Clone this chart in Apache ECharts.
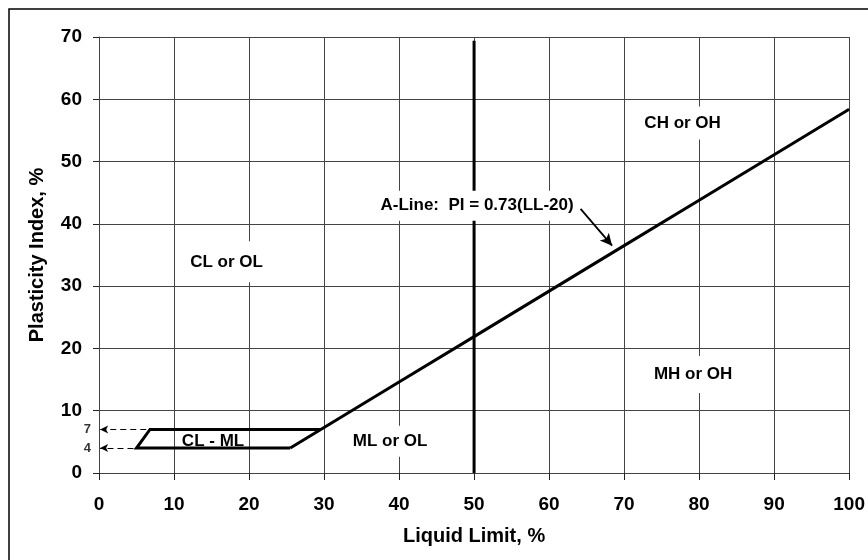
<!DOCTYPE html>
<html>
<head>
<meta charset="utf-8">
<script src="https://cdn.jsdelivr.net/npm/echarts@6/dist/echarts.min.js"></script>
<style>
html,body{margin:0;padding:0;background:#fff;}
#chart{width:868px;height:560px;}
</style>
</head>
<body>
<div id="chart"></div>
<script>
// ---- data ----
var xTicks = [0, 10, 20, 30, 40, 50, 60, 70, 80, 90, 100];
var yTicks = [0, 10, 20, 30, 40, 50, 60, 70];
var aLineLL = [25.5, 30, 40, 50, 60, 70, 80, 90, 100];
var aLinePI = [4, 7.3, 14.6, 21.9, 29.2, 36.5, 43.8, 51.1, 58.4];
var clmlLL = [25.5, 5, 6.8, 29.6];
var clmlPI = [4, 4, 7, 7];
var uLineLL = [50, 50];
var uLinePI = [0, 69.4];
var regionNames = ['CL or OL', 'CH or OH', 'MH or OH', 'ML or OL', 'CL - ML', 'A-Line:  PI = 0.73(LL-20)'];
var regionLL = [17, 77.8, 79.2, 38.8, 15.2, 50.4];
var regionPI = [33.9, 56.2, 15.8, 5.1, 5.1, 42.9];
var sideLabels = ['7', '4'];
var sidePI = [7, 4];
var sideArrowFromLL = [6.3, 4.6];
var arrowFrom = [64.2, 42.4];
var arrowTo = [68.4, 36.5];

// ---- chart ----
var FONT = "'Liberation Sans', Arial, sans-serif";
var chart = echarts.init(document.getElementById('chart'), null, {renderer: 'canvas'});

function pairs(a, b) { return a.map(function (v, i) { return [v, b[i]]; }); }

var regionPad = [[10, 5, 14, 5], [8, 5, 8, 5], [9, 5, 11, 5], [6, 4, 8, 4], [0, 0, 0, 0], [7, 5, 6, 5]];
var regionBg = ['#fff', '#fff', '#fff', '#fff', 'transparent', '#fff'];
var regionItems = regionNames.map(function (n, i) {
  return {
    value: [regionLL[i], regionPI[i]],
    name: n,
    label: {padding: regionPad[i], backgroundColor: regionBg[i]}
  };
});

var dashedArrows = sidePI.map(function (p, i) {
  return [{coord: [sideArrowFromLL[i], p]}, {coord: [0.15, p]}];
});

var option = {
  animation: false,
  backgroundColor: '#fff',
  textStyle: {fontFamily: FONT},
  graphic: [{
    type: 'rect',
    shape: {x: 9, y: 9, width: 900, height: 600},
    style: {fill: 'none', stroke: '#000', lineWidth: 1.5},
    silent: true,
    z: -1
  }],
  grid: {left: 99, right: 18, top: 37, bottom: 87, containLabel: false},
  xAxis: {
    type: 'value', min: xTicks[0], max: xTicks[xTicks.length - 1], interval: 10,
    name: 'Liquid Limit, %', nameLocation: 'middle', nameGap: 53,
    nameTextStyle: {fontSize: 20, fontWeight: 'bold', color: '#000', fontFamily: FONT},
    axisLine: {show: true, lineStyle: {color: '#444', width: 1}},
    axisTick: {show: true, length: 7, lineStyle: {color: '#222'}},
    axisLabel: {fontSize: 19, fontWeight: 'bold', color: '#000', margin: 22, fontFamily: FONT},
    splitLine: {show: true, lineStyle: {color: '#444', width: 1}}
  },
  yAxis: {
    type: 'value', min: yTicks[0], max: yTicks[yTicks.length - 1], interval: 10,
    name: 'Plasticity Index, %', nameLocation: 'middle', nameGap: 52,
    nameTextStyle: {fontSize: 20, fontWeight: 'bold', color: '#000', fontFamily: FONT},
    axisLine: {show: true, lineStyle: {color: '#444', width: 1}},
    axisTick: {show: true, length: 6, lineStyle: {color: '#222'}},
    axisLabel: {fontSize: 19, fontWeight: 'bold', color: '#000', margin: 17, fontFamily: FONT},
    splitLine: {show: true, lineStyle: {color: '#444', width: 1}}
  },
  series: [
    {
      type: 'line', data: pairs(uLineLL, uLinePI), symbol: 'none', z: 2,
      lineStyle: {color: '#000', width: 3}
    },
    {
      type: 'line', data: pairs(aLineLL, aLinePI), symbol: 'none', z: 6,
      lineStyle: {color: '#000', width: 3}
    },
    {
      type: 'line', data: pairs(clmlLL, clmlPI), symbol: 'none', z: 6,
      lineStyle: {color: '#000', width: 3, join: 'miter'}
    },
    {
      type: 'scatter', data: regionItems, symbolSize: 0, z: 5,
      itemStyle: {color: '#fff', opacity: 1},
      label: {
        show: true, position: 'inside', formatter: '{b}',
        color: '#000', fontWeight: 'bold', fontSize: 17, fontFamily: FONT,
        textBorderWidth: 0, opacity: 1
      },
      emphasis: {disabled: true},
      markLine: {
        silent: true, symbol: ['none', 'arrow'], symbolSize: [9, 12],
        label: {show: false},
        lineStyle: {color: '#000', width: 1.8, type: 'solid'},
        data: [[{coord: arrowFrom}, {coord: arrowTo}]]
      }
    },
    {
      type: 'scatter', data: pairs(sidePI.map(function () { return 0; }), sidePI),
      symbolSize: 0, clip: false, z: 5,
      itemStyle: {color: '#fff'},
      label: {
        show: true, position: 'left', distance: 8,
        formatter: function (p) { return sideLabels[p.dataIndex]; },
        color: '#000', fontWeight: 'bold', fontSize: 13, fontFamily: FONT,
        textBorderWidth: 0
      },
      emphasis: {disabled: true},
      markLine: {
        silent: true, symbol: ['none', 'arrow'], symbolSize: [6, 8],
        label: {show: false},
        lineStyle: {color: '#000', width: 1, type: [6, 4]},
        data: dashedArrows
      }
    }
  ]
};
chart.setOption(option);
</script>
</body>
</html>
